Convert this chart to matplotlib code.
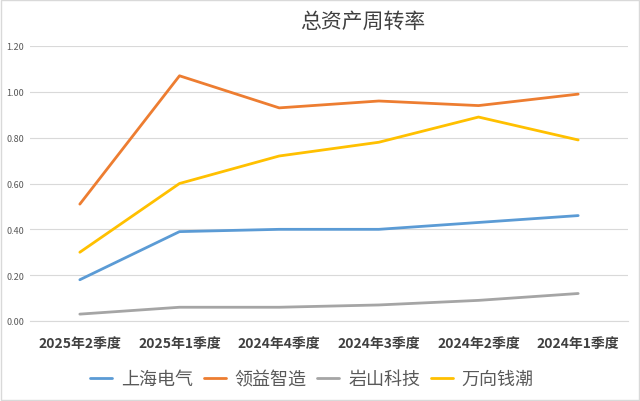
import matplotlib.pyplot as plt
from matplotlib.patches import Rectangle

plt.rcParams['font.family'] = ['Noto Sans CJK SC', 'DejaVu Sans']

# 数据
quarters = ['2025年2季度', '2025年1季度', '2024年4季度', '2024年3季度', '2024年2季度', '2024年1季度']
shanghai = [0.18, 0.39, 0.40, 0.40, 0.43, 0.46]
lingyi = [0.51, 1.07, 0.93, 0.96, 0.94, 0.99]
yanshan = [0.03, 0.06, 0.06, 0.07, 0.09, 0.12]
wanxiang = [0.30, 0.60, 0.72, 0.78, 0.89, 0.79]
names = ['上海电气', '领益智造', '岩山科技', '万向钱潮']
colors = ['#5B9BD5', '#ED7D31', '#A5A5A5', '#FFC000']
yticks = [0.0, 0.2, 0.4, 0.6, 0.8, 1.0, 1.2]

fig = plt.figure(figsize=(6.4, 4.02), dpi=100)
ax = fig.add_axes([30 / 640, 1 - 322 / 402, 598 / 640, 275 / 402])

x = range(len(quarters))
for vals, name, c in zip([shanghai, lingyi, yanshan, wanxiang], names, colors):
    ax.plot(x, vals, color=c, linewidth=2, label=name, solid_capstyle='round')

ax.set_xlim(-0.5, len(quarters) - 0.5)
ax.set_ylim(0, 1.2)
ax.set_yticks(yticks)
ax.set_yticklabels([f'{v:.2f}' for v in yticks], fontsize=6.5, color='#595959')
ax.set_xticks(list(x))
ax.set_xticklabels(quarters, fontsize=10, fontweight='bold', color='#404040')
ax.tick_params(axis='both', length=0)
ax.tick_params(axis='x', pad=11)
ax.tick_params(axis='y', pad=4)
ax.grid(axis='y', color='#D9D9D9', linewidth=0.8)
ax.set_axisbelow(True)
for s in ['top', 'right', 'left']:
    ax.spines[s].set_visible(False)
ax.spines['bottom'].set_color('#D9D9D9')

fig.text(363 / 640, 1 - 22 / 402, '总资产周转率', ha='center', va='center',
         fontsize=15, color='#404040')

leg = fig.legend(loc='center', bbox_to_anchor=(312 / 640, 1 - 380 / 402), ncol=4,
                 frameon=False, fontsize=13, handlelength=1.2, columnspacing=0.6,
                 handletextpad=0.5)
for t in leg.get_texts():
    t.set_color('#595959')

fig.patches.append(Rectangle((0.002, 0.002), 0.996, 0.996, transform=fig.transFigure,
                             fill=False, edgecolor='#D9D9D9', linewidth=1))

plt.savefig('out.png', dpi=100)
